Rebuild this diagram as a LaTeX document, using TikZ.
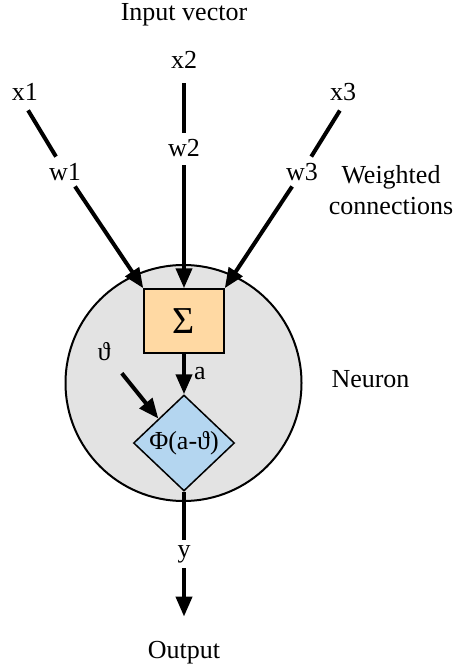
\documentclass[tikz,border=0pt]{standalone}
\usepackage{fontspec}
\setmainfont{Liberation Serif}
\usetikzlibrary{shapes.geometric, arrows.meta}
\definecolor{sumorange}{HTML}{FFD9A3}
\definecolor{actblue}{HTML}{B4D6F0}
\definecolor{cellgray}{HTML}{E3E3E3}

\begin{document}
\begin{tikzpicture}[
    x=1pt, y=-1pt,
    font=\fontsize{26}{31}\selectfont,
    txt/.style={anchor=base, inner sep=5pt},
    weight/.style={anchor=base, inner sep=6pt},
    neuron/.style={circle, draw, line width=2pt, fill=cellgray, minimum size=236pt, inner sep=0pt},
    sumbox/.style={rectangle, draw, line width=1.5pt, fill=sumorange, minimum width=80pt, minimum height=64pt, inner sep=0pt, font=\fontsize{38}{44}\selectfont},
    actfun/.style={diamond, draw, line width=1.5pt, fill=actblue, minimum width=101pt, minimum height=96pt, inner sep=0pt},
    wire/.style={line width=4pt},
    arrow/.style={line width=4pt, -{Triangle[length=20pt, width=16pt]}}
]
\useasboundingbox (0,0) rectangle (457,669);

% Neuron body
\node[neuron] (neuron) at (183.5,383) {};
\node[sumbox] (sum) at (184,321) {Σ};
\node[actfun] (phi) at (184,443) {Φ(a-ϑ)};

% Inputs and weights
\node[txt] (title) at (184,21) {Input vector};
\node[txt] (x1) at (25,100) {x1};
\node[txt] (x2) at (184,68) {x2};
\node[txt] (x3) at (343,100) {x3};
\node[weight] (w1) at (65,180) {w1};
\node[weight] (w2) at (184,156) {w2};
\node[weight] (w3) at (302,180) {w3};
\node[align=center] (conn) at (391,190) {Weighted\\connections};

% Other labels
\node[txt] (theta) at (104,360) {ϑ};
\node[txt] (neuronlbl) at (370.5,387) {Neuron};
\node[txt] (y) at (184,557) {y};
\node[txt] (out) at (184,658) {Output};

% Arrows
\draw[wire, shorten <=6pt] (x1.south) -- (w1);
\draw[wire, shorten <=10pt] (x2) -- (w2);
\draw[wire, shorten <=6pt] (x3.south) -- (w3);
\draw[arrow] (w1) -- (sum.north west);
\draw[arrow, shorten <=3pt] (w2) -- (sum.north);
\draw[arrow] (w3) -- (sum.north east);

\draw[arrow] (sum) -- node[right, inner sep=8pt] {a} (phi);
\draw[arrow, shorten <=10pt] (theta) -- (phi.north west);

\draw[wire] (phi) -- (y);
\draw[arrow, shorten >=19pt] (y) -- (out);

\end{tikzpicture}
\end{document}
